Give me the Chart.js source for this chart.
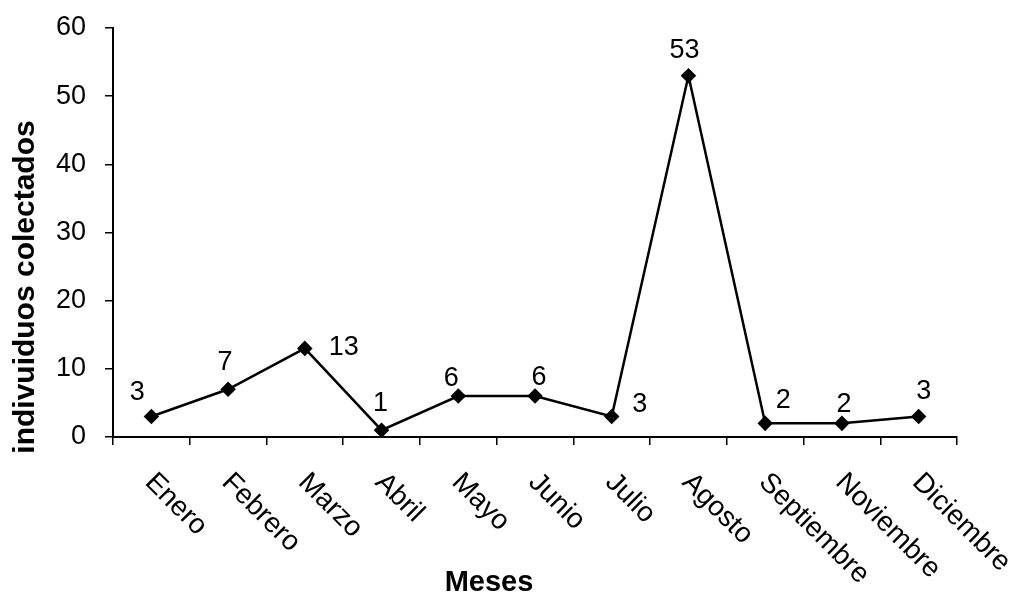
<!DOCTYPE html>
<html>
<head>
<meta charset="utf-8">
<script src="https://cdn.jsdelivr.net/npm/chart.js@4/dist/chart.umd.min.js"></script>
<style>
  html, body { margin: 0; padding: 0; background: #fff; }
  #wrap { width: 1014px; height: 595px; }
</style>
</head>
<body>
<div id="wrap"><canvas id="chart" width="1014" height="595"></canvas></div>
<script>
// data
var months = ["Enero", "Febrero", "Marzo", "Abril", "Mayo", "Junio",
  "Julio", "Agosto", "Septiembre", "Noviembre", "Diciembre"];
var collected = [3, 7, 13, 1, 6, 6, 3, 53, 2, 2, 3];
var yTicks = [0, 10, 20, 30, 40, 50, 60];
var xTitle = "Meses";
var yTitle = "indivuiduos colectados";

// where each value label sits relative to its point (dx, dy)
var labelOffsets = [
  [-14, -24], [-3, -27], [39, -1], [-1, -27], [-7, -18], [4, -19],
  [28, -12], [-4, -25], [18, -23], [2, -19], [5, -25]
];

var FONT = "'Liberation Sans', Arial, sans-serif";

// rotated month names (text runs down to the right), value labels, axis titles
var labelsPlugin = {
  id: "labelsPlugin",
  afterDraw: function(chart) {
    var ctx = chart.ctx;
    var xs = chart.scales.x;
    var meta = chart.getDatasetMeta(0);
    ctx.save();
    ctx.fillStyle = "#000";

    // month names
    ctx.font = "28px " + FONT;
    ctx.textAlign = "left";
    ctx.textBaseline = "middle";
    for (var i = 0; i < months.length; i++) {
      var x = xs.getPixelForValue(i);
      ctx.save();
      ctx.translate(x - 2, 478);
      ctx.rotate(Math.PI / 4);
      ctx.fillText(months[i], 0, 0);
      ctx.restore();
    }

    // value labels
    ctx.font = "27px " + FONT;
    ctx.textAlign = "center";
    for (var j = 0; j < meta.data.length; j++) {
      var pt = meta.data[j];
      var off = labelOffsets[j];
      ctx.fillText(String(collected[j]), pt.x + off[0], pt.y + off[1]);
    }

    // axis titles
    ctx.font = "bold 29px " + FONT;
    ctx.fillText(xTitle, 489, 583);

    ctx.save();
    ctx.translate(26, 287);
    ctx.rotate(-Math.PI / 2);
    ctx.font = "bold 30px " + FONT;
    ctx.fillText(yTitle, 0, 0);
    ctx.restore();

    ctx.restore();
  }
};

var ctx = document.getElementById("chart");
var data = {
  labels: months,
  datasets: [
    {
      data: collected,
      borderColor: "#000",
      backgroundColor: "#000",
      borderWidth: 2.5,
      pointStyle: "rectRot",
      pointRadius: 6,
      pointHoverRadius: 6,
      tension: 0
    }
  ]
};
var options = {
  responsive: false,
  animation: false,
  layout: {
    padding: { top: 28, right: 57, bottom: 0, left: 0 }
  },
  plugins: {
    legend: { display: false },
    tooltip: { enabled: false }
  },
  scales: {
    x: {
      offset: true,
      grid: {
        offset: true,
        drawOnChartArea: false,
        drawTicks: true,
        tickLength: 8,
        color: "#000",
        lineWidth: 1.5
      },
      border: { color: "#000", width: 2 },
      ticks: { display: false },
      afterFit: function(scale) {
        scale.height = 158;
        scale.paddingLeft = 0;
        scale.paddingRight = 0;
      }
    },
    y: {
      min: 0,
      max: 60,
      afterBuildTicks: function(scale) {
        scale.ticks = yTicks.map(function(v) { return { value: v }; });
      },
      grid: {
        drawOnChartArea: false,
        drawTicks: true,
        tickLength: 8,
        color: "#000",
        lineWidth: 1.5
      },
      border: { color: "#000", width: 2 },
      ticks: {
        color: "#000",
        padding: 19,
        font: { family: FONT, size: 27 }
      },
      afterFit: function(scale) {
        scale.width = 113;
        scale.paddingTop = 0;
        scale.paddingBottom = 0;
      }
    }
  }
};
var myLineChart = new Chart(ctx, {
  type: "line",
  data: data,
  options: options,
  plugins: [labelsPlugin]
});
</script>
</body>
</html>
